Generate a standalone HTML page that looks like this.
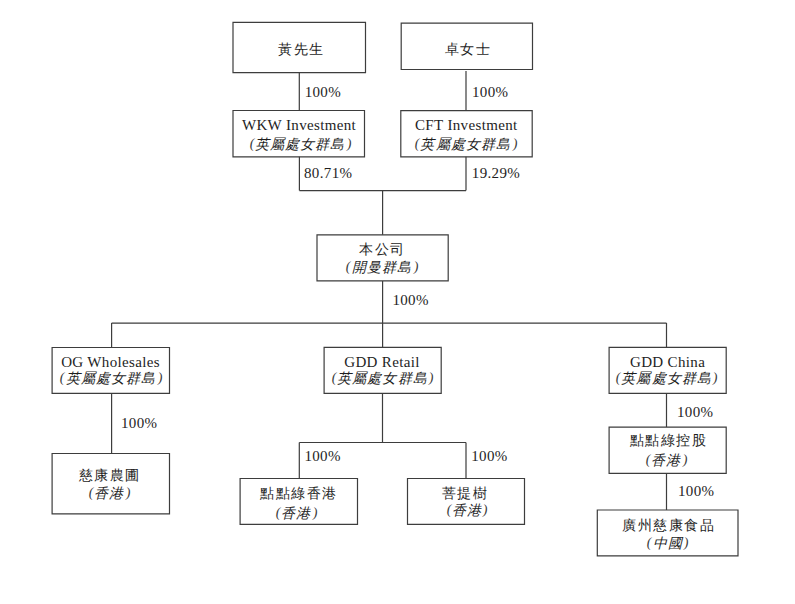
<!DOCTYPE html><html lang="zh-Hant"><head><meta charset="utf-8"><style>
html,body{margin:0;padding:0;background:#fff;width:795px;height:604px;overflow:hidden;position:relative}
body{font-family:"Liberation Serif",serif;color:#1e1e1e;font-size:15px;letter-spacing:0.35px}
.b{position:absolute;box-sizing:border-box;border:1px solid #3c3c3c}
.t{position:absolute;text-align:center;line-height:0;white-space:nowrap}
.c{font-size:14px;letter-spacing:1.5px;padding-left:1.5px}
.q{letter-spacing:0;display:inline-block;font-style:normal;transform:skewX(-9deg);color:#3a3a3a;line-height:0;font-size:14px}
.i .c{letter-spacing:1.1px;padding-left:0.5px;padding-right:1.5px;position:relative;top:1px}
.i{font-style:italic}
.v{position:absolute;width:1px;background:#3c3c3c}
.h{position:absolute;height:1px;background:#3c3c3c}
.p{position:absolute;line-height:0;white-space:nowrap}
</style></head><body>
<div class="t" id="b0_0" style="left:234.0px;top:49.25px;width:133px"><span class="c">黃先生</span></div>
<div class="t" id="b1_0" style="left:401.4px;top:48.95px;width:132px"><span class="c">卓女士</span></div>
<div class="t" id="b2_0" style="left:233.0px;top:125.40px;width:132px">WKW Investment</div>
<div class="t i" id="b2_1" style="left:234.6px;top:142.90px;width:132px"><span class="q">(</span><span class="c">英屬處女群島</span><span class="q">)</span></div>
<div class="t" id="b3_0" style="left:399.8px;top:125.00px;width:133px">CFT Investment</div>
<div class="t i" id="b3_1" style="left:399.8px;top:142.90px;width:133px"><span class="q">(</span><span class="c">英屬處女群島</span><span class="q">)</span></div>
<div class="t" id="b4_0" style="left:315.2px;top:248.70px;width:133px"><span class="c">本公司</span></div>
<div class="t i" id="b4_1" style="left:315.8px;top:266.00px;width:133px"><span class="q">(</span><span class="c">開曼群島</span><span class="q">)</span></div>
<div class="t" id="b5_0" style="left:51.6px;top:362.20px;width:118px">OG Wholesales</div>
<div class="t i" id="b5_1" style="left:52.4px;top:376.80px;width:118px"><span class="q">(</span><span class="c">英屬處女群島</span><span class="q">)</span></div>
<div class="t" id="b6_0" style="left:323.0px;top:362.20px;width:118px">GDD Retail</div>
<div class="t i" id="b6_1" style="left:324.0px;top:376.80px;width:118px"><span class="q">(</span><span class="c">英屬處女群島</span><span class="q">)</span></div>
<div class="t" id="b7_0" style="left:608.6px;top:362.20px;width:118px">GDD China</div>
<div class="t i" id="b7_1" style="left:608.2px;top:376.80px;width:118px"><span class="q">(</span><span class="c">英屬處女群島</span><span class="q">)</span></div>
<div class="t" id="b8_0" style="left:49.8px;top:474.70px;width:118px"><span class="c">慈康農圃</span></div>
<div class="t i" id="b8_1" style="left:50.8px;top:492.05px;width:118px"><span class="q">(</span><span class="c">香港</span><span class="q">)</span></div>
<div class="t" id="b9_0" style="left:239.2px;top:493.10px;width:118px"><span class="c">點點綠香港</span></div>
<div class="t i" id="b9_1" style="left:238.0px;top:511.70px;width:118px"><span class="q">(</span><span class="c">香港</span><span class="q">)</span></div>
<div class="t" id="b10_0" style="left:404.9px;top:492.90px;width:119px"><span class="c">菩提樹</span></div>
<div class="t i" id="b10_1" style="left:407.8px;top:509.00px;width:119px"><span class="q">(</span><span class="c">香港</span><span class="q">)</span></div>
<div class="t" id="b11_0" style="left:608.8px;top:440.00px;width:118px"><span class="c">點點綠控股</span></div>
<div class="t i" id="b11_1" style="left:607.8px;top:458.75px;width:118px"><span class="q">(</span><span class="c">香港</span><span class="q">)</span></div>
<div class="t" id="b12_0" style="left:596.8px;top:524.55px;width:142px"><span class="c">廣州慈康食品</span></div>
<div class="t i" id="b12_1" style="left:597.2px;top:541.75px;width:142px"><span class="q">(</span><span class="c">中國</span><span class="q">)</span></div>
<svg width="795" height="604" style="position:absolute;left:0;top:0"><path d="M233.00 22.40H365.50M365.50 22.40V72.60M233.00 72.60H365.50M233.00 22.40V72.60M401.20 23.20H532.50M532.50 23.20V69.50M401.20 69.50H532.50M401.20 23.20V69.50M233.00 110.50H364.50M364.50 110.50V156.80M233.00 156.80H364.50M233.00 110.50V156.80M400.80 110.60H532.20M532.20 110.60V156.80M400.80 156.80H532.20M400.80 110.60V156.80M317.00 234.80H448.20M448.20 234.80V280.90M317.00 280.90H448.20M317.00 234.80V280.90M52.10 347.50H169.50M169.50 347.50V393.30M52.10 393.30H169.50M52.10 347.50V393.30M324.10 347.40H441.20M441.20 347.40V393.30M324.10 393.30H441.20M324.10 347.40V393.30M609.10 347.40H726.20M726.20 347.40V393.30M609.10 393.30H726.20M609.10 347.40V393.30M52.10 453.50H169.50M169.50 453.50V513.80M52.10 513.80H169.50M52.10 453.50V513.80M240.10 478.50H357.50M357.50 478.50V524.30M240.10 524.30H357.50M240.10 478.50V524.30M407.50 478.50H524.50M524.50 478.50V524.30M407.50 524.30H524.50M407.50 478.50V524.30M609.10 427.10H726.20M726.20 427.10V473.30M609.10 473.30H726.20M609.10 427.10V473.30M597.30 510.00H738.00M738.00 510.00V555.80M597.30 555.80H738.00M597.30 510.00V555.80" fill="none" stroke="#3d3d3d" stroke-width="1.2" stroke-linecap="square"/><path d="M299.30 72.60V110.50M466.00 70.90V110.60M299.40 156.80V190.60M466.00 156.80V190.60M299.40 190.60H466.00M382.60 190.60V234.80M382.60 280.90V323.10M111.60 323.10H666.50M111.60 323.10V347.50M382.60 323.10V347.40M666.50 323.10V347.40M111.60 393.30V453.50M382.50 393.30V442.50M299.30 442.50H466.00M299.30 442.50V478.50M466.00 442.50V478.50M666.50 393.30V427.10M666.50 473.30V510.00" fill="none" stroke="#3d3d3d" stroke-width="1.2" stroke-linecap="butt"/></svg>
<div class="p" id="p0" style="left:304.65px;top:92.00px">100%</div>
<div class="p" id="p1" style="left:472.00px;top:92.00px">100%</div>
<div class="p" id="p2" style="left:304.00px;top:172.80px">80.71%</div>
<div class="p" id="p3" style="left:471.80px;top:172.80px">19.29%</div>
<div class="p" id="p4" style="left:392.40px;top:300.15px">100%</div>
<div class="p" id="p5" style="left:121.00px;top:423.00px">100%</div>
<div class="p" id="p6" style="left:304.40px;top:455.80px">100%</div>
<div class="p" id="p7" style="left:471.20px;top:455.80px">100%</div>
<div class="p" id="p8" style="left:677.00px;top:411.80px">100%</div>
<div class="p" id="p9" style="left:678.00px;top:490.50px">100%</div>
</body></html>
